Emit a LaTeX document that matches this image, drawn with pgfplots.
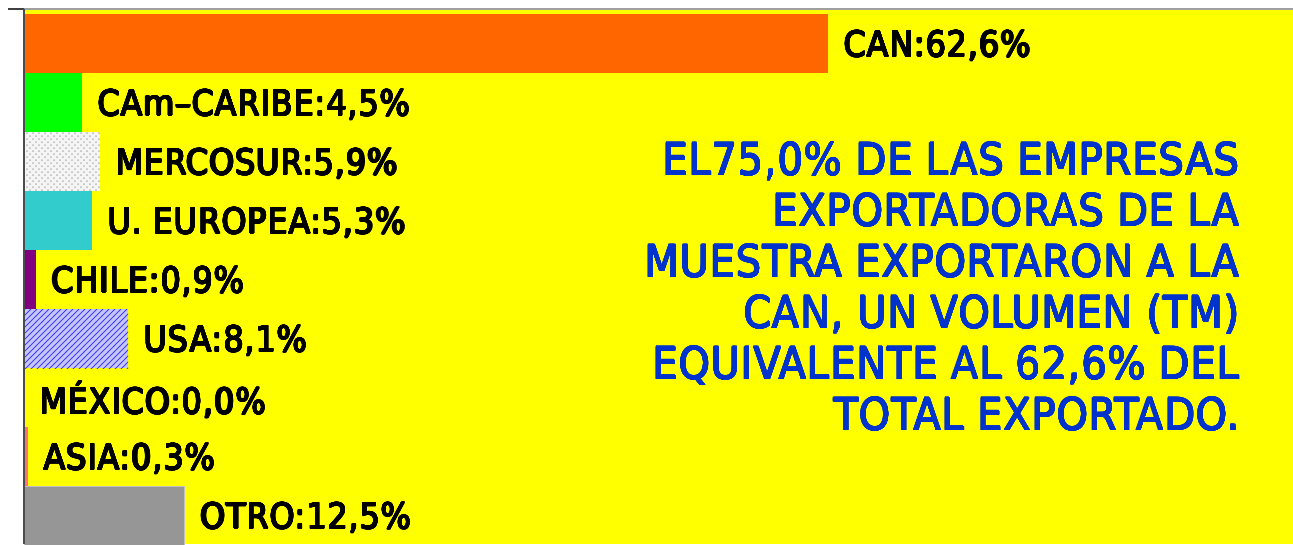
\documentclass[border=0pt]{standalone}
\usepackage{pgfplots}
\pgfplotsset{compat=1.18}
\usetikzlibrary{patterns}
\usepackage{fontspec}
\usepackage[copies]{contour}
\setmainfont{DejaVu Sans Condensed}
\newfontfamily\lblfont{DejaVu Sans Condensed}[LetterSpace=2.5]
\newfontfamily\bluefont{DejaVu Sans Condensed}[LetterSpace=2.0]
\definecolor{canor}{HTML}{FF6600}
\definecolor{cgreen}{HTML}{00FF00}
\definecolor{cteal}{HTML}{33CCCC}
\definecolor{cpurple}{HTML}{800080}
\definecolor{cgray}{HTML}{969696}
\definecolor{cblue}{HTML}{0033CC}
\definecolor{cyel}{HTML}{FFFF00}
\contournumber{16}
\newcommand\bk[1]{\contourlength{0.3pt}\contour{black}{#1}}
\newcommand\bl[1]{\contourlength{0.24pt}\contour{cblue}{#1}}
\begin{document}
\begin{tikzpicture}
\begin{axis}[
  scale only axis, width=634.5pt, height=267.5pt,
  xmin=0, xmax=98.8, ymin=-0.475, ymax=8.593,
  axis line style={draw=none},
  xtick=\empty, ytick=\empty,
  axis background/.style={fill=cyel},
  xbar, bar width=1, bar shift=0pt,
  point meta=explicit symbolic,
  nodes near coords={\bk{\pgfplotspointmeta}},
  nodes near coords style={anchor=west, inner sep=0pt, xshift=7.8pt, yshift=-1pt, text=black,
    font=\lblfont\fontsize{17.7}{20}\selectfont},
]
\addplot[fill=canor, draw=none] coordinates {(62.6,8) [CAN:62,6\%]};
\addplot[fill=cgreen, draw=none] coordinates {(4.5,7) [CAm–CARIBE:4,5\%]};
\addplot[fill=gray!8, draw=none, postaction={pattern=crosshatch dots, pattern color=gray!55}] coordinates {(5.9,6) [MERCOSUR:5,9\%]};
\addplot[fill=cteal, draw=none] coordinates {(5.3,5) [U. EUROPEA:5,3\%]};
\addplot[fill=cpurple, draw=none] coordinates {(0.9,4) [CHILE:0,9\%]};
\addplot[fill=blue!22, draw=none, postaction={pattern=north east lines, pattern color=blue!75}] coordinates {(8.1,3) [USA:8,1\%]};
\addplot[fill=white, draw=none] coordinates {(0.0,2) [MÉXICO:0,0\%]};
\addplot[fill=red!55, draw=none, postaction={pattern=dots, pattern color=red}] coordinates {(0.3,1) [ASIA:0,3\%]};
\addplot[fill=cgray, draw=gray!50, line width=0.4pt] coordinates {(12.5,0) [OTRO:12,5\%]};
\end{axis}
\draw[line width=1.2pt, gray!75] (current axis.north west) -- (current axis.north east);
\draw[line width=0.8pt, black!75] ([xshift=-8pt]current axis.north west) -- (current axis.north west);
\draw[line width=0.9pt, black!70] (current axis.north west) -- (current axis.south west);
\node[anchor=north east, align=right, inner sep=0pt, text=cblue,
  font=\bluefont\fontsize{22.2}{25.5}\selectfont]
  at ([xshift=608pt, yshift=-66.5pt]current axis.north west)
  {\bl{EL75,0\% DE LAS EMPRESAS}\\\bl{EXPORTADORAS DE LA}\\\bl{MUESTRA EXPORTARON A LA}\\\bl{CAN, UN VOLUMEN (TM)}\\\bl{EQUIVALENTE AL 62,6\% DEL}\\\bl{TOTAL EXPORTADO.}};
\pgfresetboundingbox
\path[use as bounding box] ([xshift=-12pt]current axis.south west) rectangle ([yshift=4.5pt]current axis.north east);
\end{tikzpicture}
\end{document}
